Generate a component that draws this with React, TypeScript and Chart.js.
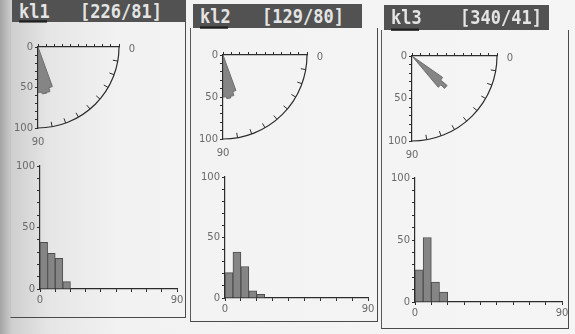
import React, { useEffect, useRef } from 'react';
import { Chart, registerables } from 'chart.js';

Chart.register(...registerables);

// ---------- data ----------
const panelNames = ['kl1', 'kl2', 'kl3'];
const panelOrientations = ['[226/81]', '[129/80]', '[340/41]'];

// rose diagram: dip-angle bins (degrees from horizontal), values in %
const roseBinWidth = 5;
const roseBinStarts1 = [70, 75, 80, 85];
const roseValues1 = [52, 57, 58, 56];
const roseBinStarts2 = [70, 75, 80, 85];
const roseValues2 = [45, 50, 52, 50];
const roseBinStarts3 = [35, 40, 45];
const roseValues3 = [44, 54, 48];

// histogram: bins of dip (degrees), values in %
const histBinWidth = 5;
const histBinStarts1 = [0, 5, 10, 15];
const histValues1 = [38, 29, 25, 6];
const histBinStarts2 = [0, 5, 10, 15, 20];
const histValues2 = [21, 38, 26, 6, 3];
const histBinStarts3 = [0, 5, 10, 15];
const histValues3 = [26, 52, 16, 8];

// tick labels
const percentTickLabels = [0, 50, 100];
const dipTickLabels = [0, 90];
const arcEndLabels = ['0', '90'];

// ---------- styles ----------
const LABEL_FONT = { family: 'DejaVu Sans', size: 10 };
const LABEL_COLOR = '#6a6a6a';
const AXIS_COLOR = '#2c2c2c';

const roseFramePlugin = {
  id: 'roseFrame',
  afterDraw(chart: any) {
    const { ctx, scales } = chart;
    const x = scales.x;
    const y = scales.y;
    const cx = x.getPixelForValue(0);
    const cy = y.getPixelForValue(0);
    const rx = x.getPixelForValue(100) - cx;
    const ry = y.getPixelForValue(100) - cy;
    ctx.save();
    ctx.strokeStyle = AXIS_COLOR;
    ctx.lineWidth = 1.2;
    ctx.beginPath();
    ctx.ellipse(cx, cy, rx, ry, 0, 0, Math.PI / 2);
    ctx.stroke();
    ctx.lineWidth = 1;
    for (let a = 10; a < 90; a += 10) {
      const t = (a * Math.PI) / 180;
      const ox = cx + rx * Math.cos(t);
      const oy = cy + ry * Math.sin(t);
      const ix = cx + (rx - 5) * Math.cos(t);
      const iy = cy + (ry - 5) * Math.sin(t);
      ctx.beginPath();
      ctx.moveTo(ox, oy);
      ctx.lineTo(ix, iy);
      ctx.stroke();
    }
    ctx.fillStyle = LABEL_COLOR;
    ctx.font = '10px "DejaVu Sans"';
    ctx.textAlign = 'center';
    ctx.textBaseline = 'middle';
    ctx.fillText(arcEndLabels[0], cx + rx + 13, cy + 2);
    ctx.fillText(arcEndLabels[1], cx, cy + ry + 14);
    ctx.restore();
  },
};

function roseConfig(starts: number[], values: number[]) {
  // one closed outline: origin -> outer edge of every bin -> origin
  const pts: { x: number; y: number }[] = [{ x: 0, y: 0 }];
  starts.forEach((a, i) => {
    const v = values[i];
    const t1 = (a * Math.PI) / 180;
    const t2 = ((a + roseBinWidth) * Math.PI) / 180;
    pts.push({ x: v * Math.cos(t1), y: v * Math.sin(t1) });
    pts.push({ x: v * Math.cos(t2), y: v * Math.sin(t2) });
  });
  pts.push({ x: 0, y: 0 });
  return {
    type: 'scatter',
    data: {
      datasets: [
        {
          data: pts,
          showLine: true,
          fill: 'shape',
          pointRadius: 0,
          borderWidth: 1,
          borderColor: '#6e6e6e',
          backgroundColor: '#858585',
        },
      ],
    },
    plugins: [roseFramePlugin],
    options: {
      responsive: false,
      animation: false,
      events: [],
      layout: { padding: { left: 0, top: 0, right: 32, bottom: 26 } },
      plugins: { legend: { display: false }, tooltip: { enabled: false } },
      scales: {
        x: {
          type: 'linear',
          position: 'top',
          min: 0,
          max: 100,
          ticks: { display: false, stepSize: 10 },
          grid: { drawOnChartArea: false, tickLength: 3, color: AXIS_COLOR },
          border: { color: AXIS_COLOR, width: 1.2 },
          afterFit: (s: any) => {
            s.height = 17;
          },
        },
        y: {
          type: 'linear',
          position: 'left',
          reverse: true,
          min: 0,
          max: 100,
          ticks: {
            stepSize: 10,
            autoSkip: false,
            padding: 2,
            font: LABEL_FONT,
            color: LABEL_COLOR,
            callback: (v: number) => (percentTickLabels.includes(v) ? String(v) : ''),
          },
          grid: { drawOnChartArea: false, tickLength: 3, color: AXIS_COLOR },
          border: { color: AXIS_COLOR, width: 1.2 },
          afterFit: (s: any) => {
            s.width = 38;
          },
        },
      },
    },
  };
}

function histConfig(starts: number[], values: number[]) {
  return {
    type: 'bar',
    data: {
      datasets: [
        {
          data: starts.map((s, i) => ({ x: s + histBinWidth / 2, y: values[i] })),
          backgroundColor: '#858585',
          borderColor: '#4e4e4e',
          borderWidth: 1,
          barPercentage: 1,
          categoryPercentage: 1,
        },
      ],
    },
    options: {
      responsive: false,
      animation: false,
      events: [],
      layout: { padding: { left: 0, top: 10, right: 12, bottom: 0 } },
      plugins: { legend: { display: false }, tooltip: { enabled: false } },
      scales: {
        x: {
          type: 'linear',
          min: 0,
          max: 90,
          offset: false,
          ticks: {
            stepSize: 10,
            autoSkip: false,
            maxRotation: 0,
            padding: 2,
            font: LABEL_FONT,
            color: LABEL_COLOR,
            callback: (v: number) => (dipTickLabels.includes(v) ? String(v) : ''),
          },
          grid: { offset: false, drawOnChartArea: false, tickLength: 3, color: AXIS_COLOR },
          border: { color: AXIS_COLOR, width: 1.2 },
          afterFit: (s: any) => {
            s.height = 18;
          },
        },
        y: {
          type: 'linear',
          min: 0,
          max: 100,
          ticks: {
            stepSize: 10,
            autoSkip: false,
            padding: 2,
            font: LABEL_FONT,
            color: LABEL_COLOR,
            callback: (v: number) => (percentTickLabels.includes(v) ? String(v) : ''),
          },
          grid: { drawOnChartArea: false, tickLength: 3, color: AXIS_COLOR },
          border: { color: AXIS_COLOR, width: 1.2 },
          afterFit: (s: any) => {
            s.width = 40;
          },
        },
      },
    },
  };
}

type Box = { x: number; y: number; w: number; h: number };

function ChartCanvas({ box, build }: { box: Box; build: () => any }) {
  const ref = useRef<HTMLCanvasElement>(null);
  useEffect(() => {
    const chart = new Chart(ref.current as HTMLCanvasElement, build());
    return () => chart.destroy();
  }, []);
  return (
    <canvas
      ref={ref}
      width={box.w}
      height={box.h}
      style={{ position: 'absolute', left: box.x, top: box.y, width: box.w, height: box.h }}
    />
  );
}

// layout of each panel (pixel geometry only)
const panels = [
  {
    title: { x: 12, y: 0, w: 174, h: 22, orientX: 68 },
    frame: { x: 10, y: 22, w: 176, h: 296 },
    rose: { ox: 38, oy: 47, r: 81 },
    hist: { ox: 40, oy: 289, top: 166, right: 177 },
    roseStarts: roseBinStarts1,
    roseValues: roseValues1,
    histStarts: histBinStarts1,
    histValues: histValues1,
  },
  {
    title: { x: 193, y: 4, w: 169, h: 24, orientX: 69 },
    frame: { x: 190, y: 28, w: 188, h: 294 },
    rose: { ox: 223, oy: 55, r: 84 },
    hist: { ox: 225, oy: 298, top: 177, right: 368 },
    roseStarts: roseBinStarts2,
    roseValues: roseValues2,
    histStarts: histBinStarts2,
    histValues: histValues2,
  },
  {
    title: { x: 384, y: 5, w: 165, h: 25, orientX: 76 },
    frame: { x: 381, y: 30, w: 188, h: 299 },
    rose: { ox: 412, oy: 56, r: 85 },
    hist: { ox: 415, oy: 302, top: 178, right: 562 },
    roseStarts: roseBinStarts3,
    roseValues: roseValues3,
    histStarts: histBinStarts3,
    histValues: histValues3,
  },
];

export default function App() {
  useEffect(() => {
    document.body.style.margin = '0';
  }, []);
  return (
    <div
      style={{
        position: 'fixed',
        left: 0,
        top: 0,
        width: 575,
        height: 334,
        overflow: 'hidden',
        background:
          'linear-gradient(to right, #a4a4a4 0px, #cfcfcf 12px, #e6e6e6 50px, #f2f2f2 120px, #f5f5f5 100%)',
      }}
    >
      {panels.map((p, i) => {
        const roseBox: Box = {
          x: p.rose.ox - 38,
          y: p.rose.oy - 17,
          w: 38 + p.rose.r + 32,
          h: 17 + p.rose.r + 26,
        };
        const histBox: Box = {
          x: p.hist.ox - 40,
          y: p.hist.top - 10,
          w: 40 + (p.hist.right - p.hist.ox) + 12,
          h: 10 + (p.hist.oy - p.hist.top) + 18,
        };
        return (
          <React.Fragment key={i}>
            <div
              style={{
                position: 'absolute',
                left: p.frame.x,
                top: p.frame.y,
                width: p.frame.w,
                height: p.frame.h,
                boxSizing: 'border-box',
                borderRight: '1px solid #4a4a4a',
                borderBottom: '1px solid #4a4a4a',
                borderLeft: i === 0 ? '1px solid #c4c4c4' : '1px solid #5a5a5a',
              }}
            />
            <div
              style={{
                position: 'absolute',
                left: p.title.x,
                top: p.title.y,
                width: p.title.w,
                height: p.title.h,
                background: '#525252',
                color: '#e4e4e4',
                fontFamily: '"DejaVu Sans Mono", monospace',
                fontWeight: 'bold',
                fontSize: 17,
                lineHeight: p.title.h + 'px',
              }}
            >
              <span
                style={{
                  position: 'absolute',
                  left: 7,
                  top: 0,
                  width: 28,
                  height: p.title.h - 3,
                  borderBottom: '2px solid #1e1e1e',
                  transform: 'scaleY(1.15)',
                  transformOrigin: 'center',
                }}
              >
                {panelNames[i]}
              </span>
              <span
                style={{
                  position: 'absolute',
                  left: p.title.orientX,
                  top: 0,
                  transform: 'scaleY(1.15)',
                  transformOrigin: 'center',
                }}
              >
                {panelOrientations[i]}
              </span>
            </div>
            <ChartCanvas box={roseBox} build={() => roseConfig(p.roseStarts, p.roseValues)} />
            <ChartCanvas box={histBox} build={() => histConfig(p.histStarts, p.histValues)} />
          </React.Fragment>
        );
      })}
    </div>
  );
}
